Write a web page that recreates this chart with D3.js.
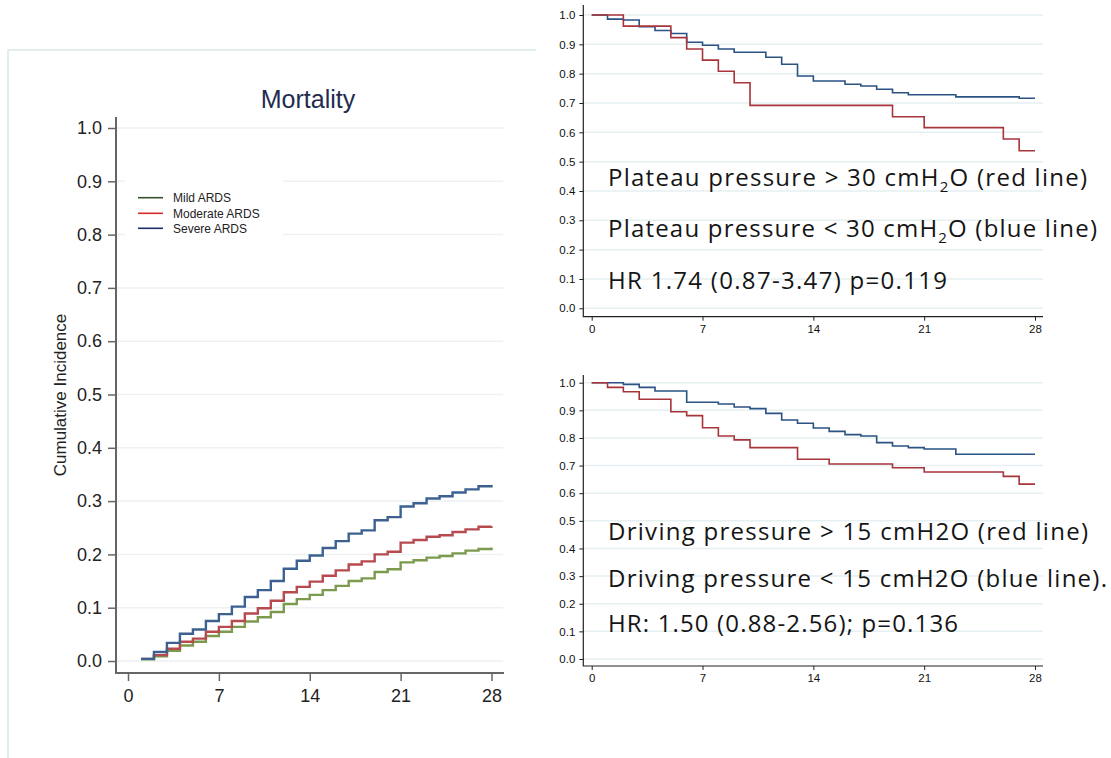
<!DOCTYPE html>
<html>
<head>
<meta charset="utf-8">
<script src="https://cdn.jsdelivr.net/npm/d3@7"></script>
<style>
  html, body { margin: 0; padding: 0; background: #fff; }
  svg { display: block; }
</style>
</head>
<body>
<div class="chart-js"></div>
<script>
'use strict';

// ---- data ----
var dayTicks = [0, 7, 14, 21, 28];
var probTicks = [0, 0.1, 0.2, 0.3, 0.4, 0.5, 0.6, 0.7, 0.8, 0.9, 1.0];

// left panel: cumulative incidence, step at each day
var cifDays = [1, 2, 3, 4, 5, 6, 7, 8, 9, 10, 11, 12, 13, 14, 15, 16, 17, 18, 19, 20, 21, 22, 23, 24, 25, 26, 27, 28];
var mildCif = [0.003, 0.009, 0.019, 0.029, 0.036, 0.047, 0.055, 0.064, 0.074, 0.082, 0.092, 0.107, 0.116, 0.124,
               0.133, 0.141, 0.150, 0.155, 0.167, 0.172, 0.185, 0.189, 0.194, 0.197, 0.202, 0.207, 0.210, 0.213];
var moderateCif = [0.004, 0.011, 0.023, 0.036, 0.042, 0.055, 0.064, 0.075, 0.089, 0.099, 0.113, 0.129, 0.139, 0.149,
                   0.160, 0.170, 0.181, 0.187, 0.200, 0.205, 0.222, 0.227, 0.233, 0.236, 0.242, 0.247, 0.252, 0.253];
var severeCif = [0.004, 0.017, 0.034, 0.051, 0.059, 0.075, 0.088, 0.102, 0.120, 0.133, 0.150, 0.173, 0.188, 0.198,
                 0.212, 0.225, 0.239, 0.245, 0.264, 0.270, 0.290, 0.296, 0.305, 0.309, 0.316, 0.322, 0.328, 0.330];
var cifNames = ['Mild ARDS', 'Moderate ARDS', 'Severe ARDS'];

// top right: plateau pressure survival
var plateauHighT = [0, 2, 5, 6, 7, 8, 9, 10, 19, 21, 26, 27, 28];
var plateauHighS = [1.0, 0.962, 0.923, 0.884, 0.846, 0.808, 0.769, 0.692, 0.653, 0.616, 0.577, 0.537, 0.537];
var plateauLowT = [0, 1, 2, 3, 4, 5, 6, 7, 8, 9, 11, 12, 13, 14, 16, 17, 18, 19, 20, 23, 27, 28];
var plateauLowS = [1.0, 0.986, 0.983, 0.960, 0.947, 0.937, 0.907, 0.897, 0.884, 0.873, 0.856, 0.832, 0.792, 0.775,
                   0.764, 0.758, 0.747, 0.735, 0.728, 0.721, 0.716, 0.716];

// bottom right: driving pressure survival
var drivingHighT = [0, 1, 2, 3, 5, 6, 7, 8, 9, 10, 13, 15, 19, 21, 26, 27, 28];
var drivingHighS = [1.0, 0.983, 0.967, 0.940, 0.895, 0.881, 0.837, 0.807, 0.793, 0.765, 0.723, 0.706, 0.692, 0.677,
                    0.661, 0.633, 0.633];
var drivingLowT = [0, 2, 3, 4, 6, 8, 9, 10, 11, 12, 13, 14, 15, 16, 17, 18, 19, 20, 21, 23, 28];
var drivingLowS = [1.0, 0.994, 0.983, 0.970, 0.929, 0.923, 0.912, 0.906, 0.889, 0.865, 0.853, 0.836, 0.824, 0.812,
                   0.807, 0.783, 0.771, 0.765, 0.760, 0.741, 0.741];

var plateauNotes = ['Plateau pressure > 30 cmH|2|O (red line)', 'Plateau pressure < 30 cmH|2|O (blue line)',
                    'HR 1.74 (0.87-3.47) p=0.119'];
var drivingNotes = ['Driving pressure > 15 cmH2O (red line)', 'Driving pressure < 15 cmH2O (blue line).',
                    'HR: 1.50 (0.88-2.56); p=0.136'];

function zip(xs, ys) {
  return xs.map(function(x, i) { return { t: x, v: ys[i] }; });
}

var svg = d3.select('.chart-js').append('svg')
  .attr('width', 1111)
  .attr('height', 758);

// ---- left panel ----
function drawLeft() {
  var g = svg.append('g');
  var x = d3.scaleLinear().domain([0, 28]).range([128, 491.5]);
  var y = d3.scaleLinear().domain([0, 1]).range([661, 128]);

  // panel frame
  g.append('path')
    .attr('d', 'M8,758V50H536')
    .attr('fill', 'none')
    .attr('stroke', '#e2eeee')
    .attr('stroke-width', 2);

  // gridlines
  g.selectAll('.grid').data(probTicks).enter().append('line')
    .attr('x1', 116).attr('x2', 503)
    .attr('y1', function(d) { return y(d); })
    .attr('y2', function(d) { return y(d); })
    .attr('stroke', '#edf1f2')
    .attr('stroke-width', 1.5);

  // white legend box hides grid behind it
  g.append('rect').attr('x', 125).attr('y', 170).attr('width', 158).attr('height', 72).attr('fill', '#fff');

  var yAxis = d3.axisLeft(y).tickValues(probTicks).tickSize(8).tickPadding(6).tickFormat(d3.format('.1f'));
  var yg = g.append('g').attr('transform', 'translate(116,0)').call(yAxis);
  var xAxis = d3.axisBottom(x).tickValues(dayTicks).tickSize(8).tickPadding(8);
  var xg = g.append('g').attr('transform', 'translate(0,673)').call(xAxis);
  [yg, xg].forEach(function(a) {
    a.select('.domain').remove();
    a.selectAll('line').attr('stroke', '#666').attr('stroke-width', 1.5);
    a.selectAll('text').attr('font-family', 'Liberation Sans, Arial, sans-serif')
      .attr('font-size', 18).attr('fill', '#222');
  });
  g.append('path')
    .attr('d', 'M116,117V673H504')
    .attr('fill', 'none')
    .attr('stroke', '#666')
    .attr('stroke-width', 2);

  g.append('text')
    .attr('x', 308).attr('y', 108)
    .attr('text-anchor', 'middle')
    .attr('font-family', 'Liberation Sans, Arial, sans-serif')
    .attr('font-size', 25)
    .attr('fill', '#1f2c4f')
    .text('Mortality');

  g.append('text')
    .attr('transform', 'translate(66,395) rotate(-90)')
    .attr('text-anchor', 'middle')
    .attr('font-family', 'Liberation Sans, Arial, sans-serif')
    .attr('font-size', 17)
    .attr('fill', '#222')
    .text('Cumulative Incidence');

  var line = d3.line()
    .curve(d3.curveStepAfter)
    .x(function(d) { return x(d.t); })
    .y(function(d) { return y(d.v); });

  var curveColors = ['#7b9a4e', '#b64a4f', '#3c6190'];
  var series = [mildCif, moderateCif, severeCif];
  series.forEach(function(s, i) {
    g.append('path')
      .datum(zip(cifDays, s))
      .attr('fill', 'none')
      .attr('stroke', curveColors[i])
      .attr('stroke-width', 2.4)
      .attr('d', line);
  });

  // legend
  var legendColors = ['#35502a', '#d42a2a', '#1c2f6c'];
  var lg = g.selectAll('.legend').data(cifNames).enter().append('g')
    .attr('transform', function(d, i) { return 'translate(138,' + [197.7, 213.3, 228.3][i] + ')'; });
  lg.append('line')
    .attr('x1', 0).attr('x2', 25)
    .attr('stroke', function(d, i) { return legendColors[i]; })
    .attr('stroke-width', 1.6);
  lg.append('text')
    .attr('x', 35)
    .attr('dy', '0.35em')
    .attr('font-family', 'Liberation Sans, Arial, sans-serif')
    .attr('font-size', 12)
    .attr('fill', '#222')
    .text(function(d) { return d; });
}

// ---- right panels ----
function drawKm(opts) {
  var g = svg.append('g');
  var x = d3.scaleLinear().domain([0, 28]).range([591.7, 1035]);
  var y = d3.scaleLinear().domain([0, 1]).range([opts.y0, opts.y1]);

  g.selectAll('.grid').data(probTicks).enter().append('line')
    .attr('x1', 583).attr('x2', 1043)
    .attr('y1', function(d) { return y(d); })
    .attr('y2', function(d) { return y(d); })
    .attr('stroke', '#e6eff1')
    .attr('stroke-width', 1.5);

  var yAxis = d3.axisLeft(y).tickValues(probTicks).tickSize(4).tickPadding(4).tickFormat(d3.format('.1f'));
  var yg = g.append('g').attr('transform', 'translate(583.3,0)').call(yAxis);
  var xAxis = d3.axisBottom(x).tickValues(dayTicks).tickSize(4).tickPadding(4);
  var xg = g.append('g').attr('transform', 'translate(0,' + opts.axisY + ')').call(xAxis);
  [yg, xg].forEach(function(a) {
    a.select('.domain').remove();
    a.selectAll('line').attr('stroke', '#222');
    a.selectAll('text').attr('font-family', 'Liberation Sans, Arial, sans-serif')
      .attr('font-size', 11.5).attr('fill', '#111');
  });
  g.append('path')
    .attr('d', 'M583.3,' + opts.top + 'V' + opts.axisY + 'H1043')
    .attr('fill', 'none')
    .attr('stroke', '#222')
    .attr('stroke-width', 1.2);

  var line = d3.line()
    .curve(d3.curveStepAfter)
    .x(function(d) { return x(d.t); })
    .y(function(d) { return y(d.v); });

  g.append('path').datum(opts.low)
    .attr('fill', 'none').attr('stroke', '#2a5283').attr('stroke-width', 1.6).attr('d', line);
  g.append('path').datum(opts.high)
    .attr('fill', 'none').attr('stroke', '#a8343b').attr('stroke-width', 1.6).attr('d', line);

  opts.notes.forEach(function(note, i) {
    var t = g.append('text')
      .attr('x', 608)
      .attr('y', opts.noteY[i])
      .attr('font-family', 'Open Sans, Noto Sans, sans-serif')
      .attr('font-size', 24)
      .attr('fill', '#151515')
      .attr('textLength', opts.noteW[i])
      .attr('lengthAdjust', 'spacing');
    var parts = note.split('|');
    parts.forEach(function(p, j) {
      var ts = t.append('tspan').text(p);
      if (j === 1) ts.attr('font-size', 15).attr('dy', 6);
      if (j === 2) ts.attr('dy', -6);
    });
  });
}

drawLeft();
drawKm({
  y0: 308.3, y1: 15, axisY: 316.7, top: 5,
  high: zip(plateauHighT, plateauHighS),
  low: zip(plateauLowT, plateauLowS),
  notes: plateauNotes,
  noteY: [186, 237, 289],
  noteW: [479, 489, 339]
});
drawKm({
  y0: 659, y1: 382.7, axisY: 666, top: 375,
  high: zip(drivingHighT, drivingHighS),
  low: zip(drivingLowT, drivingLowS),
  notes: drivingNotes,
  noteY: [540, 586.5, 631.5],
  noteW: [480, 499, 350]
});
</script>
</body>
</html>
